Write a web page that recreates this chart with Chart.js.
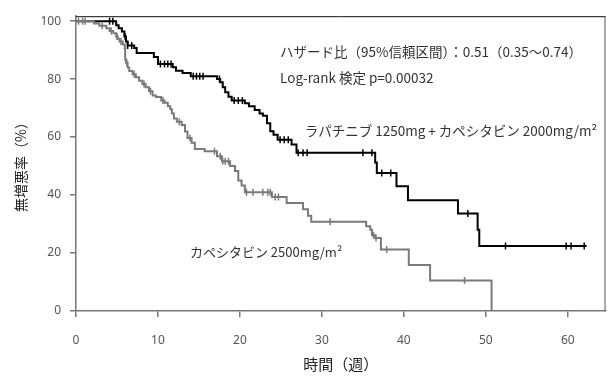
<!DOCTYPE html>
<html>
<head>
<meta charset="utf-8">
<script src="https://cdn.jsdelivr.net/npm/chart.js@4.4.0/dist/chart.umd.min.js"></script>
<style>
  html, body { margin: 0; padding: 0; background: #fff; }
</style>
</head>
<body>
<canvas id="pfs" width="611" height="376"></canvas>
<script>
// Kaplan-Meier steps: week where the curve drops, PFS (%) after the drop
var lapTimes = [0, 4.9, 5.2, 5.6, 5.9, 6.1, 6.3, 7.1, 7.4, 9.5, 10.0, 11.8, 12.2, 13.0, 14.0, 17.2, 17.6, 17.9, 18.2, 18.6, 19.0, 20.6, 21.1, 21.8, 22.4, 22.8, 23.3, 23.7, 24.1, 24.6, 26.3, 26.9, 36.5, 36.7, 39.1, 40.5, 46.6, 49.0, 49.2, 62.3];
var lapSurv = [100, 98.6, 97.5, 96.4, 94.7, 93.0, 91.6, 90.7, 89.0, 87.6, 85.2, 84.1, 82.9, 82.1, 81.0, 80.0, 78.9, 77.2, 75.5, 73.9, 72.6, 71.7, 70.6, 69.3, 68.1, 67.4, 64.8, 62.0, 60.8, 59.1, 57.4, 54.6, 51.2, 47.6, 43.0, 38.2, 33.6, 28.0, 22.4, 22.4];
var lapCensor = [4.1, 4.5, 6.0, 6.3, 6.8, 10.3, 10.8, 11.2, 11.6, 14.3, 14.7, 15.1, 15.5, 17.5, 19.3, 19.8, 20.3, 24.9, 25.4, 25.9, 27.1, 27.7, 28.2, 35.0, 36.1, 37.3, 38.4, 47.8, 52.4, 59.8, 60.4, 62.0];

var capTimes = [0, 2.2, 2.85, 3.7, 4.1, 4.55, 4.9, 5.1, 5.3, 5.7, 5.95, 6.0, 6.1, 6.3, 6.5, 6.9, 7.3, 7.7, 8.1, 8.5, 8.9, 9.35, 9.75, 10.4, 10.8, 11.2, 11.5, 11.7, 11.95, 12.3, 12.9, 13.3, 13.6, 14.1, 14.5, 15.7, 17.2, 17.8, 18.8, 19.4, 19.8, 20.2, 20.6, 23.9, 25.7, 27.7, 28.3, 28.7, 35.4, 35.9, 36.1, 36.5, 37.2, 40.6, 43.2, 50.7];
var capSurv = [100, 99.2, 98.4, 97.5, 96.6, 95.8, 94.7, 93.9, 93.0, 91.9, 90.7, 86.8, 85.6, 84.0, 82.8, 81.7, 80.6, 79.4, 78.3, 77.2, 75.8, 74.3, 73.8, 72.6, 71.8, 70.6, 69.6, 68.1, 66.4, 65.3, 64.2, 61.9, 59.7, 58.0, 55.9, 55.1, 53.4, 51.7, 50.0, 48.3, 45.0, 43.3, 41.0, 39.3, 37.3, 35.1, 32.9, 30.8, 29.2, 28.0, 26.1, 25.2, 21.2, 15.9, 10.5, 0];
var capCensor = [0.3, 0.8, 1.1, 3.2, 4.3, 5.0, 5.5, 6.2, 7.1, 8.3, 9.1, 10.6, 12.6, 13.9, 16.9, 17.6, 17.9, 18.2, 18.6, 20.8, 21.6, 22.8, 23.4, 23.7, 24.3, 24.7, 31.0, 36.3, 36.6, 37.9, 47.4];

var xTicks = [0, 10, 20, 30, 40, 50, 60];
var yTicks = [0, 20, 40, 60, 80, 100];

var hazardText = 'ハザード比（95%信頼区間）：0.51（0.35～0.74）';
var logrankText = 'Log-rank 検定 p=0.00032';
var lapLabel = 'ラパチニブ 1250mg + カペシタビン 2000mg/m²';
var capLabel = 'カペシタビン 2500mg/m²';

function stepPoints(times, surv) {
	return times.map(function(t, i) { return {x: t, y: surv[i]}; });
}

// value of the step curve at week t, for the censor marks
function survAt(times, surv, t) {
	var v = surv[0];
	for (var i = 0; i < times.length; i++) {
		if (times[i] <= t) v = surv[i];
	}
	return v;
}

function censorPoints(cens, times, surv) {
	return cens.map(function(t) { return {x: t, y: survAt(times, surv, t)}; });
}

var cjk = '"Noto Sans CJK JP", "Noto Sans", sans-serif';

var framePlugin = {
	id: 'frame',
	afterDraw: function(chart) {
		var a = chart.chartArea, ctx = chart.ctx;
		ctx.save();
		ctx.lineWidth = 1;
		ctx.strokeStyle = '#111';
		ctx.beginPath();
		ctx.moveTo(a.left, a.top + 0.5);
		ctx.lineTo(a.right, a.top + 0.5);
		ctx.stroke();
		ctx.strokeStyle = '#555';
		ctx.beginPath();
		ctx.moveTo(a.right - 0.5, a.top);
		ctx.lineTo(a.right - 0.5, a.bottom);
		ctx.stroke();
		ctx.restore();
	}
};

var notesPlugin = {
	id: 'notes',
	afterDraw: function(chart) {
		var ctx = chart.ctx, x = chart.scales.x, y = chart.scales.y;
		ctx.save();
		ctx.fillStyle = '#333';
		ctx.textBaseline = 'middle';
		ctx.textAlign = 'left';
		ctx.font = '13.5px ' + cjk;
		ctx.fillText(hazardText, x.getPixelForValue(24.9), y.getPixelForValue(89.5));
		ctx.fillText(logrankText, x.getPixelForValue(24.9), y.getPixelForValue(80.3));
		ctx.fillText(lapLabel, x.getPixelForValue(27.9), y.getPixelForValue(62.0));
		ctx.font = '13px ' + cjk;
		ctx.fillText(capLabel, x.getPixelForValue(13.9), y.getPixelForValue(20.3));
		ctx.restore();
	}
};

var ctx = document.getElementById('pfs').getContext('2d');
var pfsChart = new Chart(ctx, {
	type: 'line',
	data: {
		datasets: [{
			label: 'cap',
			data: stepPoints(capTimes, capSurv),
			borderColor: '#7a7a7a',
			borderWidth: 2,
			stepped: true,
			pointRadius: 0,
			fill: false,
			order: 1
		}, {
			label: 'cap censor',
			data: censorPoints(capCensor, capTimes, capSurv),
			showLine: false,
			pointStyle: 'line',
			rotation: 90,
			pointRadius: 3.5,
			borderWidth: 1.5,
			borderColor: '#7a7a7a',
			order: 0
		}, {
			label: 'lap',
			data: stepPoints(lapTimes, lapSurv),
			borderColor: '#000',
			borderWidth: 2,
			stepped: true,
			pointRadius: 0,
			fill: false,
			order: 3
		}, {
			label: 'lap censor',
			data: censorPoints(lapCensor, lapTimes, lapSurv),
			showLine: false,
			pointStyle: 'line',
			rotation: 90,
			pointRadius: 3.5,
			borderWidth: 1.5,
			borderColor: '#000',
			order: 2
		}]
	},
	options: {
		responsive: false,
		animation: false,
		layout: { padding: { left: 0, right: 5, top: 11, bottom: 0 } },
		plugins: {
			legend: { display: false },
			tooltip: { enabled: false }
		},
		scales: {
			x: {
				type: 'linear',
				min: 0,
				max: 64.6,
				afterBuildTicks: function(s) { s.ticks = xTicks.map(function(v) { return {value: v}; }); },
				afterFit: function(s) { s.height = 65; },
				ticks: { color: '#555', font: { family: 'Noto Sans', size: 12 }, padding: 16, maxRotation: 0 },
				grid: { drawOnChartArea: false, drawTicks: true, tickLength: 6, color: '#777', lineWidth: 1.5 },
				border: { display: true, color: '#777', width: 1.5 },
				title: { display: true, text: '時間（週）', color: '#222', font: { family: cjk, size: 15 }, padding: { top: 0, bottom: 3 } }
			},
			y: {
				min: 0,
				max: 101.7,
				afterBuildTicks: function(s) { s.ticks = yTicks.map(function(v) { return {value: v}; }); },
				afterFit: function(s) { s.width = 76; },
				ticks: { color: '#555', font: { family: 'Noto Sans', size: 12 }, padding: 9 },
				grid: { drawOnChartArea: false, drawTicks: true, tickLength: 6, color: '#777', lineWidth: 1.5 },
				border: { display: true, color: '#777', width: 1.5 },
				title: { display: true, text: '無増悪率（%）', color: '#222', font: { family: cjk, size: 14 }, padding: { top: 12, bottom: 0 } }
			}
		}
	},
	plugins: [framePlugin, notesPlugin]
});
</script>
</body>
</html>
